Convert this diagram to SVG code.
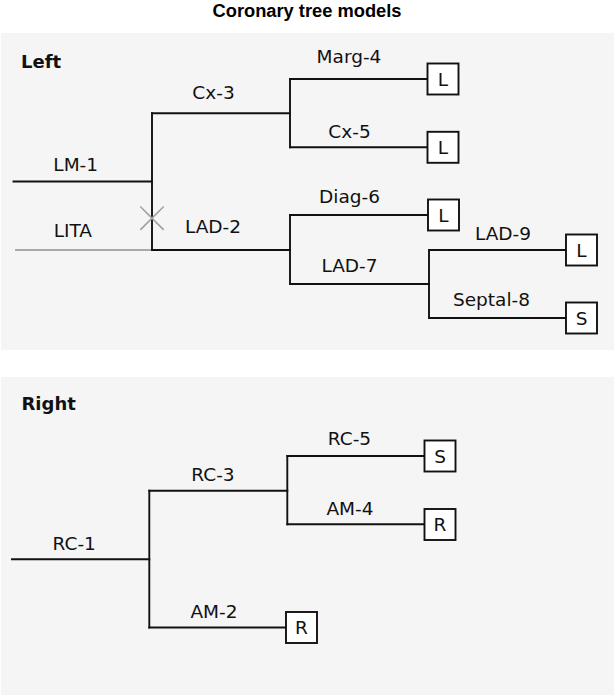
<svg xmlns="http://www.w3.org/2000/svg" width="614" height="695" viewBox="0 0 614 695">
<style>
.panel{fill:#f5f5f5;stroke:none}
.title{font-family:"Liberation Sans",Arial,sans-serif;font-weight:bold;font-size:18.3px;fill:#000;text-anchor:middle}
.head{font-family:"DejaVu Sans",sans-serif;font-weight:bold;font-size:18px;fill:#111}
.lbl{font-family:"DejaVu Sans",sans-serif;font-size:18.5px;fill:#111;text-anchor:middle}
.seg{stroke:#111;stroke-width:1.9;fill:none;stroke-linecap:square}
.graft{stroke:#aaaaaa;stroke-width:1.9;fill:none}
.cross{stroke:#a0a0a0;stroke-width:1.6;fill:none}
.box{fill:#ffffff;stroke:#111;stroke-width:1.9}
.boxt{font-family:"DejaVu Sans",sans-serif;font-size:18.5px;fill:#111;text-anchor:middle}
</style>
<rect width="614" height="695" fill="#ffffff"/>
<text class="title" x="307" y="16.5">Coronary tree models</text>
<rect class="panel" x="1" y="33" width="613" height="317"/>
<rect class="panel" x="1" y="377" width="613" height="318"/>
<text class="head" x="21" y="67.5">Left</text>
<text class="head" x="21.5" y="409.5">Right</text>

<g id="connectors">
  <!-- Left tree -->
  <line class="seg" x1="13.5" y1="181.5" x2="152" y2="181.5"/>
  <line class="graft" x1="15" y1="250" x2="152" y2="250"/>
  <line class="seg" x1="152" y1="113.3" x2="152" y2="250"/>
  <line class="seg" x1="152" y1="113.3" x2="290" y2="113.3"/>
  <line class="seg" x1="290" y1="79" x2="290" y2="147.3"/>
  <line class="seg" x1="290" y1="79" x2="427.5" y2="79"/>
  <line class="seg" x1="290" y1="147.3" x2="427.5" y2="147.3"/>
  <line class="seg" x1="152" y1="250" x2="290" y2="250"/>
  <line class="seg" x1="290" y1="215" x2="290" y2="284"/>
  <line class="seg" x1="290" y1="215" x2="428" y2="215"/>
  <line class="seg" x1="290" y1="284" x2="429" y2="284"/>
  <line class="seg" x1="429" y1="250" x2="429" y2="318"/>
  <line class="seg" x1="429" y1="250" x2="566" y2="250"/>
  <line class="seg" x1="429" y1="318" x2="566" y2="318"/>
  <line class="cross" x1="140.3" y1="206.5" x2="163.7" y2="229.9"/>
  <line class="cross" x1="163.7" y1="206.5" x2="140.3" y2="229.9"/>
  <!-- Right tree -->
  <line class="seg" x1="12" y1="559.3" x2="149.3" y2="559.3"/>
  <line class="seg" x1="149.3" y1="490.7" x2="149.3" y2="627.5"/>
  <line class="seg" x1="149.3" y1="490.7" x2="287.3" y2="490.7"/>
  <line class="seg" x1="287.3" y1="456" x2="287.3" y2="524.3"/>
  <line class="seg" x1="287.3" y1="456" x2="424.5" y2="456"/>
  <line class="seg" x1="287.3" y1="524.3" x2="424.5" y2="524.3"/>
  <line class="seg" x1="149.3" y1="627.5" x2="286" y2="627.5"/>
</g>

<g id="LM-1"><text class="lbl" x="75.7" y="170.5">LM-1</text></g>
<g id="LITA"><text class="lbl" x="72.8" y="237">LITA</text></g>
<g id="Cx-3"><text class="lbl" x="213.5" y="98.7">Cx-3</text></g>
<g id="Marg-4"><text class="lbl" x="349" y="63.3">Marg-4</text>
  <rect class="box" x="427.5" y="63.5" width="31" height="31"/><text class="boxt" x="443" y="85.8">L</text></g>
<g id="Cx-5"><text class="lbl" x="349.5" y="138.3">Cx-5</text>
  <rect class="box" x="427.5" y="131.8" width="31" height="31"/><text class="boxt" x="443" y="154.1">L</text></g>
<g id="LAD-2"><text class="lbl" x="213" y="233">LAD-2</text></g>
<g id="Diag-6"><text class="lbl" x="349.5" y="203">Diag-6</text>
  <rect class="box" x="428" y="199.5" width="31" height="31"/><text class="boxt" x="443.5" y="221.8">L</text></g>
<g id="LAD-7"><text class="lbl" x="349.5" y="271.7">LAD-7</text></g>
<g id="LAD-9"><text class="lbl" x="503" y="240">LAD-9</text>
  <rect class="box" x="566" y="234.5" width="31" height="31"/><text class="boxt" x="581.5" y="256.8">L</text></g>
<g id="Septal-8"><text class="lbl" x="491.5" y="306">Septal-8</text>
  <rect class="box" x="566" y="302.5" width="31" height="31"/><text class="boxt" x="581.5" y="324.8">S</text></g>

<g id="RC-1"><text class="lbl" x="74.2" y="550">RC-1</text></g>
<g id="RC-3"><text class="lbl" x="213" y="481">RC-3</text></g>
<g id="RC-5"><text class="lbl" x="349.5" y="445">RC-5</text>
  <rect class="box" x="424.5" y="440.5" width="31" height="31"/><text class="boxt" x="440" y="462.8">S</text></g>
<g id="AM-4"><text class="lbl" x="350" y="515">AM-4</text>
  <rect class="box" x="424.5" y="509" width="31" height="31"/><text class="boxt" x="440" y="531.3">R</text></g>
<g id="AM-2"><text class="lbl" x="214" y="618.3">AM-2</text>
  <rect class="box" x="286" y="612" width="31" height="31"/><text class="boxt" x="301.5" y="634.3">R</text></g>
</svg>
